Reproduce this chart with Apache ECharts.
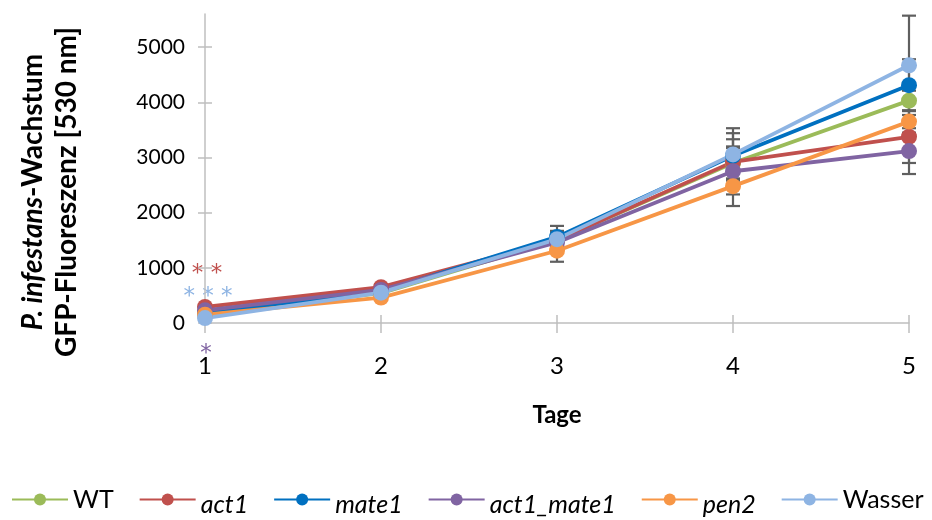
<!DOCTYPE html>
<html><head><meta charset="utf-8">
<script src="https://cdn.jsdelivr.net/npm/echarts@6/dist/echarts.min.js"></script>
<style>html,body{margin:0;padding:0;background:#fff}#c{width:932px;height:520px}</style>
</head><body><div id="c"></div>
<script>
const days = ['1','2','3','4','5'];
const seriesNames = ['WT','act1','mate1','act1_mate1','pen2','Wasser'];
const WT         = [170, 540, 1500, 2900, 4030];
const act1       = [290, 650, 1500, 2920, 3375];
const mate1      = [180, 570, 1560, 3030, 4310];
const act1_mate1 = [230, 600, 1460, 2750, 3115];
const pen2       = [150, 460, 1310, 2480, 3650];
const Wasser     = [90, 550, 1520, 3055, 4670];
const WT_err         = [30, 40, 150, 300, 180];
const act1_err       = [30, 50, 150, 410, 475];
const mate1_err      = [30, 50, 200, 410, 470];
const act1_mate1_err = [30, 50, 150, 420, 415];
const pen2_err       = [30, 40, 200, 360, 200];
const Wasser_err     = [30, 50, 150, 475, 900];
const yTicks = [0, 1000, 2000, 3000, 4000, 5000];

const values = [WT, act1, mate1, act1_mate1, pen2, Wasser];
const errs = [WT_err, act1_err, mate1_err, act1_mate1_err, pen2_err, Wasser_err];
const colors = ['#9BBB59','#C0504D','#0070C0','#8064A2','#F79646','#8EB4E3'];
const italicNames = {act1:1, mate1:1, act1_mate1:1, pen2:1};
const FONT = 'Lato';

const errData = [];
values.forEach((v, s) => v.forEach((y, i) => errData.push([i, y - errs[s][i], y + errs[s][i]])));

const chart = echarts.init(document.getElementById('c'));
const series = [{
  type: 'custom',
  xAxisIndex: 0, yAxisIndex: 0,
  data: errData,
  z: 1,
  renderItem: function (params, api) {
    const lo = api.coord([api.value(0), api.value(1)]);
    const hi = api.coord([api.value(0), api.value(2)]);
    const w = 7;
    const st = {stroke: '#5f5f5f', lineWidth: 2.2};
    return {type: 'group', children: [
      {type: 'line', shape: {x1: lo[0], y1: lo[1], x2: hi[0], y2: hi[1]}, style: st},
      {type: 'line', shape: {x1: lo[0]-w, y1: lo[1], x2: lo[0]+w, y2: lo[1]}, style: st},
      {type: 'line', shape: {x1: hi[0]-w, y1: hi[1], x2: hi[0]+w, y2: hi[1]}, style: st}
    ]};
  }
}];
seriesNames.forEach((n, s) => series.push({
  name: n, type: 'line', data: values[s],
  xAxisIndex: 0, yAxisIndex: 0,
  symbol: 'circle', symbolSize: 16, z: 3,
  lineStyle: {width: 3.8, color: colors[s]},
  itemStyle: {color: colors[s]},
  emphasis: {disabled: true}
}));

chart.setOption({
  animation: false,
  color: colors,
  grid: {left: 205, right: 23, top: 14, bottom: 197},
  xAxis: [{
    type: 'category', data: days, boundaryGap: false,
    axisLine: {lineStyle: {color: '#BFBFBF', width: 1.5}},
    axisTick: {length: 10, lineStyle: {color: '#BFBFBF', width: 1.5}},
    axisLabel: {fontFamily: FONT, fontSize: 24, color: '#000', margin: 31},
    name: 'Tage', nameLocation: 'middle', nameGap: 80,
    nameTextStyle: {fontFamily: FONT, fontSize: 24, fontWeight: 'bold', color: '#000'}
  }, {
    type: 'category', data: days, boundaryGap: false, position: 'bottom',
    axisLine: {show: false},
    axisTick: {inside: true, length: 8, lineStyle: {color: '#BFBFBF', width: 1.5}},
    axisLabel: {show: false}
  }],
  yAxis: [{
    type: 'value', min: 0, max: 5600, interval: 1000,
    splitLine: {show: false},
    axisLine: {show: true, lineStyle: {color: '#BFBFBF', width: 1.5}},
    axisTick: {show: true, length: 7, customValues: yTicks, lineStyle: {color: '#BFBFBF', width: 1.5}},
    axisLabel: {fontFamily: FONT, fontSize: 21, color: '#000', margin: 20, customValues: yTicks,
      formatter: v => String(v)}
  }, {
    type: 'value', min: 0, max: 5600, interval: 1000, position: 'left',
    splitLine: {show: false},
    axisLine: {show: false},
    axisTick: {show: true, inside: true, length: 7, customValues: yTicks, lineStyle: {color: '#BFBFBF', width: 1.5}},
    axisLabel: {show: false}
  }],
  legend: {
    bottom: -2, left: 6,
    itemWidth: 56, itemHeight: 15, itemGap: 25,
    data: seriesNames,
    formatter: n => italicNames[n] ? '{i|' + n + '}' : '{n|' + n + '}',
    textStyle: {
      fontFamily: FONT, fontSize: 25, color: '#000',
      rich: {
        i: {fontFamily: FONT, fontSize: 25, fontStyle: 'italic', color: '#000', padding: [10, 0, 0, 0]},
        n: {fontFamily: FONT, fontSize: 25, color: '#000'}
      }
    }
  },
  graphic: [
    {type: 'text', x: 50, y: 192, rotation: Math.PI / 2,
     style: {text: '{i|P. infestans}{b|-Wachstum}\n{b|GFP-Fluoreszenz [530 nm]}',
       align: 'center', verticalAlign: 'middle', lineHeight: 34,
       rich: {
         i: {fontFamily: FONT, fontSize: 28, fontWeight: 'bold', fontStyle: 'italic', fill: '#000', lineHeight: 34},
         b: {fontFamily: FONT, fontSize: 28, fontWeight: 'bold', fill: '#000', lineHeight: 34}
       }}},
    {type: 'text', x: 207, y: 274, style: {text: '* *', fill: '#C0504D', fontFamily: 'DejaVu Sans', fontSize: 23, align: 'center', verticalAlign: 'middle'}},
    {type: 'text', x: 208, y: 297, style: {text: '* * *', fill: '#8EB4E3', fontFamily: 'DejaVu Sans', fontSize: 23, align: 'center', verticalAlign: 'middle'}},
    {type: 'text', x: 206, y: 354, style: {text: '*', fill: '#8064A2', fontFamily: 'DejaVu Sans', fontSize: 23, align: 'center', verticalAlign: 'middle'}}
  ],
  series: series
});
</script></body></html>
